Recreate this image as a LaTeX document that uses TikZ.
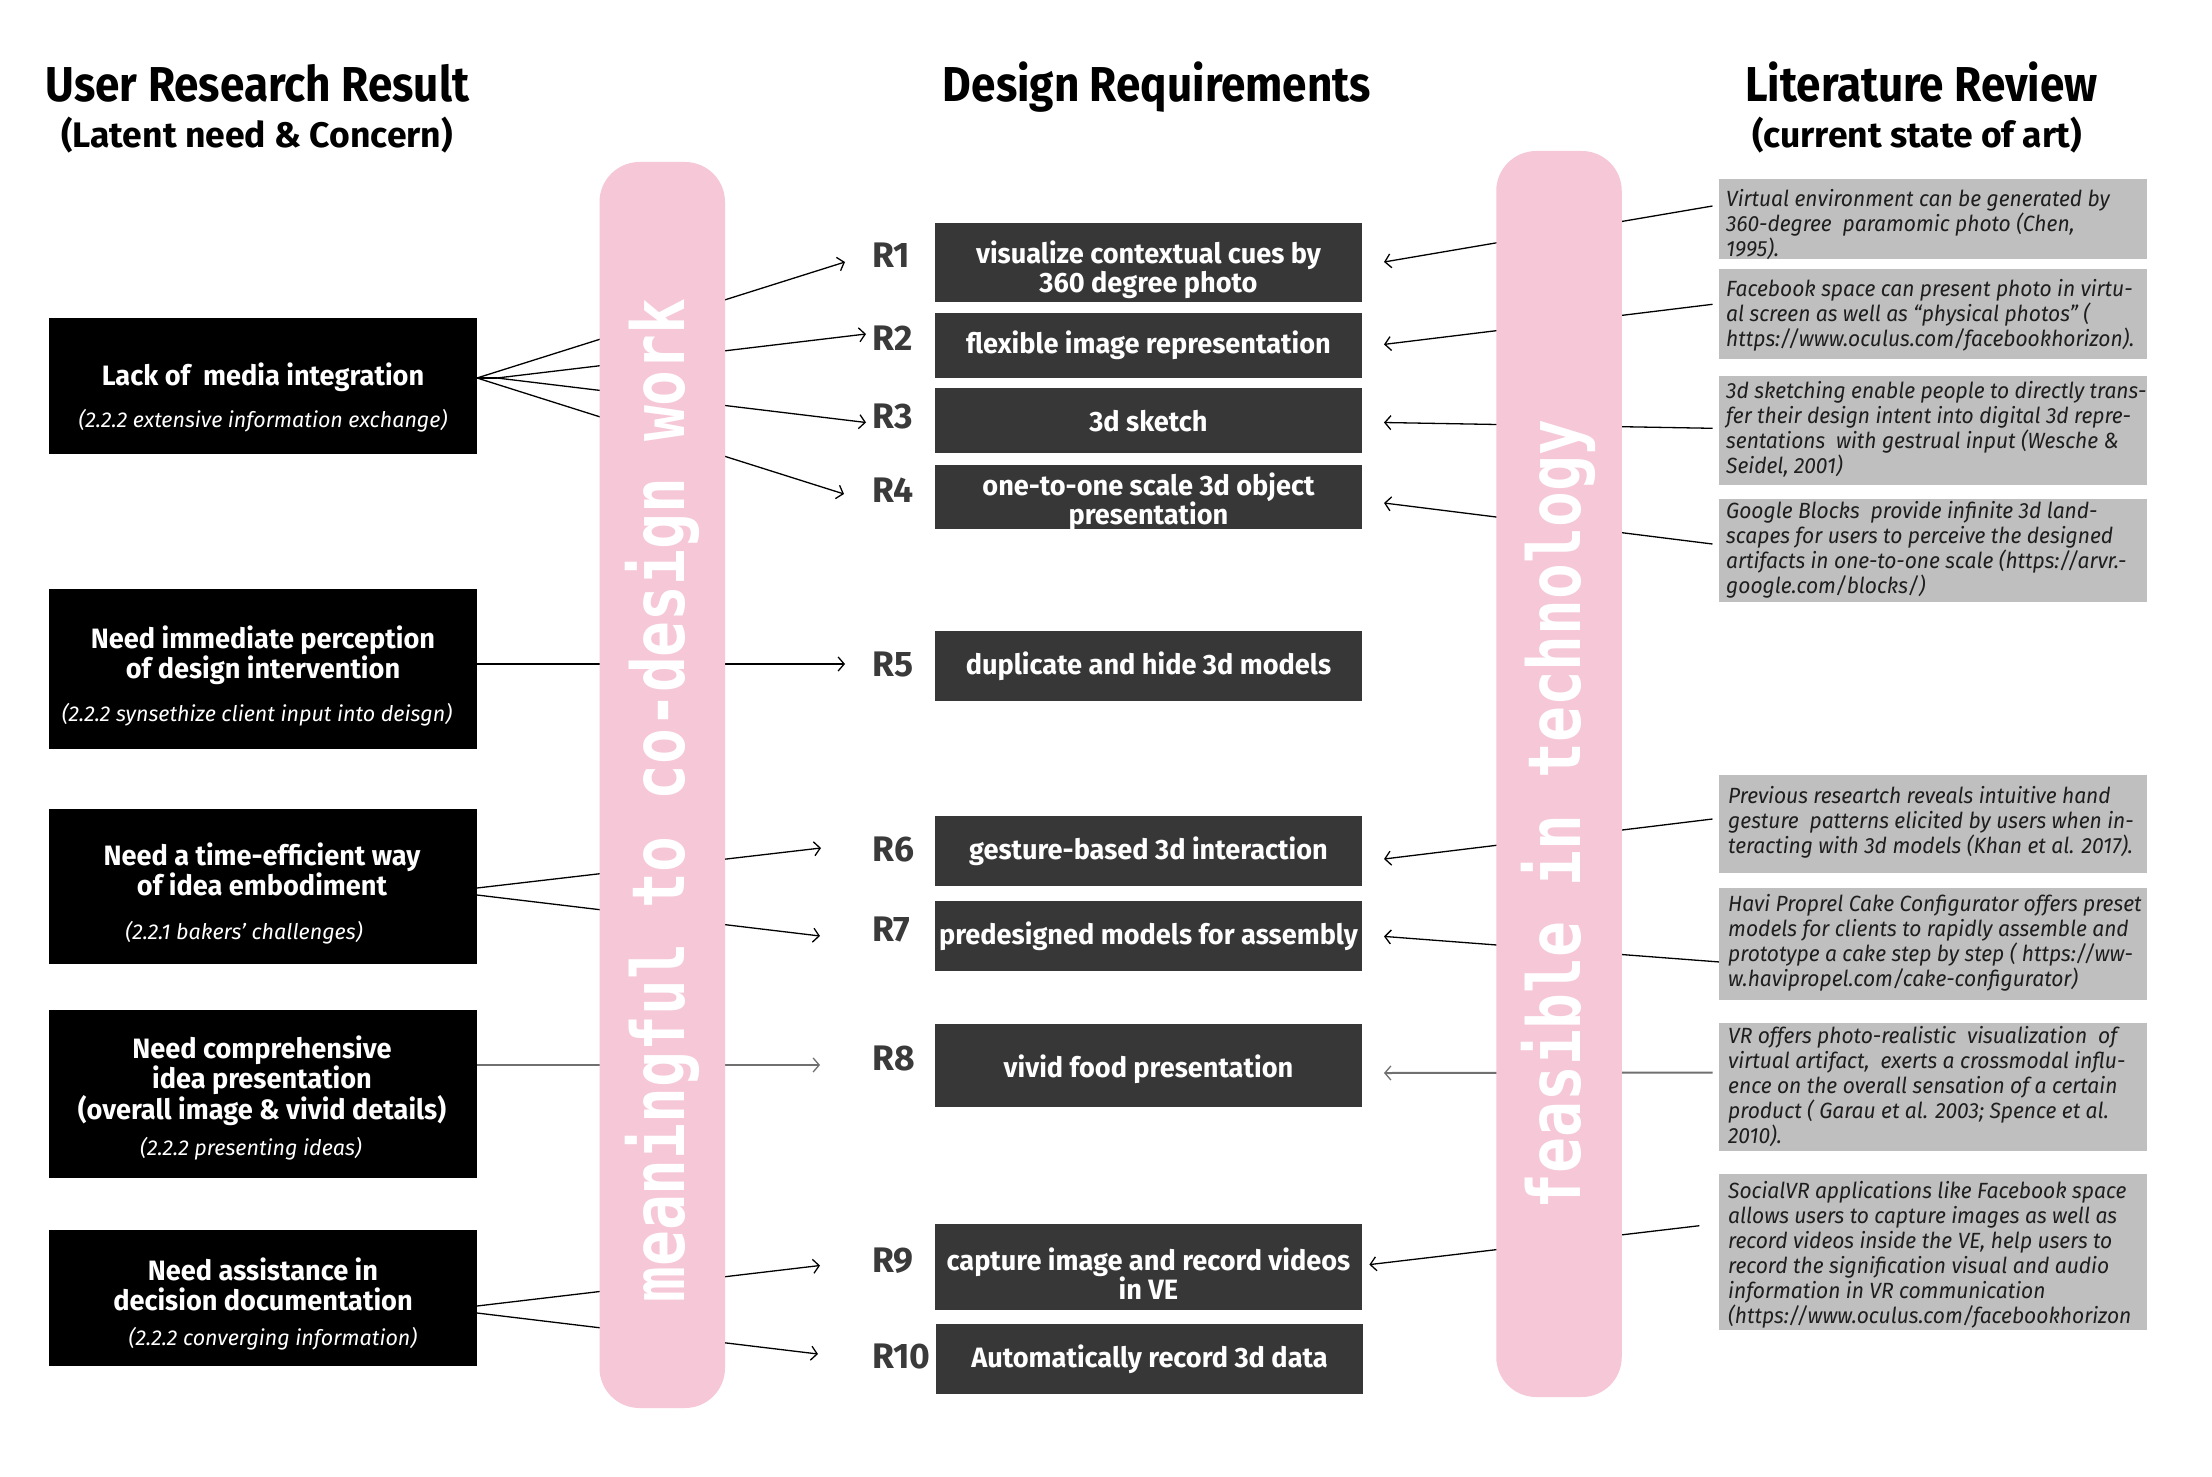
\documentclass[tikz,border=0pt]{standalone}
\usepackage{fontspec}
\setmainfont{Fira Sans}
\newfontfamily\headfont{Fira Sans}[FakeStretch=0.9]
\newfontfamily\boxfont{Fira Sans}[FakeStretch=0.97]
\newfontfamily\litfont{Fira Sans}[FakeStretch=0.955]
\newfontfamily\pinkfont{DejaVu Sans Mono}[FakeStretch=0.816]
\usetikzlibrary{arrows.meta}
\definecolor{pinkbar}{HTML}{F6C7D7}
\definecolor{rboxc}{HTML}{373737}
\definecolor{litbox}{HTML}{BFBFBF}
\definecolor{rlabelc}{HTML}{3A3A3A}
\definecolor{littext}{HTML}{1E1E1E}
\definecolor{grayline}{HTML}{707070}
\begin{document}
\begin{tikzpicture}[x=1pt,y=-1pt,
  lbox/.style={fill=black, inner sep=0, minimum width=428.5pt, anchor=north west},
  ltitle/.style={text=white, font=\boxfont\bfseries\fontsize{28}{30}\selectfont, inner sep=0, align=center},
  lsub/.style={text=white, font=\itshape\fontsize{21.5}{24}\selectfont, anchor=base, inner sep=0},
  rbox/.style={fill=rboxc, text=white, minimum width=427.5pt, inner sep=1pt, align=center, font=\boxfont\bfseries\fontsize{28}{29}\selectfont},
  rtext/.style={text=white, inner sep=0, align=center, font=\boxfont\bfseries\fontsize{28}{29}\selectfont},
  rlab/.style={anchor=base west, inner sep=0, text=rlabelc, font=\bfseries\fontsize{35.5}{35.5}\selectfont},
  gbox/.style={fill=litbox, inner sep=0, minimum width=428pt, anchor=north west},
  gtext/.style={anchor=north west, align=left, inner sep=0, text=littext, font=\litfont\itshape\fontsize{22}{25}\selectfont},
  pbar/.style={fill=pinkbar, inner sep=0, minimum width=125.5pt, rounded corners=40pt},
  ptext/.style={text=white, inner sep=0, anchor=base, rotate=90, font=\pinkfont\bfseries\fontsize{73}{73}\selectfont},
  head/.style={anchor=base, inner sep=0, font=\headfont\bfseries\fontsize{49}{49}\selectfont},
  subhead/.style={anchor=base, inner sep=0, font=\bfseries\fontsize{35.5}{35.5}\selectfont},
  conn/.style={line width=1.3pt, -{Straight Barb[length=6pt,width=14pt,line width=1.3pt]}},
  gconn/.style={conn, draw=grayline, line width=2pt},
  plain/.style={line width=1.3pt}
]
\useasboundingbox (0,0) rectangle (2212,1477);
\fill[white] (0,0) rectangle (2212,1477);

% headings
\node[head] (H1) at (257.5,102) {User Research Result};
\node[subhead] (H1s) at (257,148) {(Latent need \& Concern)};
\node[head] (H2) at (1157,102) {Design Requirements};
\node[head] (H3) at (1921.5,102) {Literature Review};
\node[subhead] (H3s) at (1917,148) {(current state of art)};

% connector coordinates (left)
\coordinate (a1) at (477,378);
\coordinate (a2) at (497,378);
\coordinate (a5) at (477,664);
\coordinate (a6) at (477,888);
\coordinate (a7) at (477,895);
\coordinate (a8) at (477,1065);
\coordinate (a9) at (477,1306);
\coordinate (a10) at (477,1313);
\coordinate (t1) at (845,262);
\coordinate (t2) at (866,334);
\coordinate (t3) at (866,422.5);
\coordinate (t4) at (844,494);
\coordinate (t5) at (845,664);
\coordinate (t6) at (821,848);
\coordinate (t7) at (820,936);
\coordinate (t8) at (820,1065);
\coordinate (t9) at (820,1265.5);
\coordinate (t10) at (818,1354);
% connector coordinates (right)
\coordinate (g1) at (1712.5,206);
\coordinate (g2) at (1712.5,304.3);
\coordinate (g3) at (1712.5,428.3);
\coordinate (g4) at (1712.5,544);
\coordinate (g6) at (1712.5,819);
\coordinate (g7) at (1725,962.4);
\coordinate (g8) at (1712.5,1072.6);
\coordinate (g9) at (1699.4,1225.7);
\coordinate (u1) at (1384,262);
\coordinate (u2) at (1384,344.4);
\coordinate (u3) at (1384,422.5);
\coordinate (u4) at (1384,503);
\coordinate (u6) at (1384,859);
\coordinate (u7) at (1384,936.4);
\coordinate (u8) at (1384,1073);
\coordinate (u9) at (1369.4,1264.6);

\draw[plain] (a1) -- (a2);
\draw[conn] (a1) -- (t1);
\draw[conn] (a2) -- (t2);
\draw[conn] (a2) -- (t3);
\draw[conn] (a1) -- (t4);
\draw[conn] (a5) -- (t5);
\draw[conn] (a6) -- (t6);
\draw[conn] (a7) -- (t7);
\draw[gconn] (a8) -- (t8);
\draw[conn] (a9) -- (t9);
\draw[conn] (a10) -- (t10);

\draw[conn] (g1) -- (u1);
\draw[conn] (g2) -- (u2);
\draw[conn] (g3) -- (u3);
\draw[conn] (g4) -- (u4);
\draw[conn] (g6) -- (u6);
\draw[conn] (g7) -- (u7);
\draw[gconn] (g8) -- (u8);
\draw[conn] (g9) -- (u9);

% pink bars
\node[pbar, minimum height=1246pt] (PB1) at (662.25,785) {};
\node[pbar, minimum height=1246pt] (PB2) at (1559,774) {};
\node[ptext] (PT1) at (684,800.5) {meaningful to co-design work};
\node[ptext] (PT2) at (1580,814.5) {feasible in technology};

% left boxes
\node[lbox, minimum height=136pt] (B1) at (48.5,318) {};
\node[lbox, minimum height=159.3pt] (B2) at (48.5,589) {};
\node[lbox, minimum height=154.3pt] (B3) at (48.5,809) {};
\node[lbox, minimum height=168pt] (B4) at (48.5,1009.3) {};
\node[lbox, minimum height=136.4pt] (B5) at (48.5,1229.3) {};

\node[ltitle, anchor=base] (B1t) at (263,385) {Lack of~ media integration};
\node[lsub] (B1s) at (263,427) {(2.2.2 extensive information exchange)};
\node[ltitle, anchor=north] (B2t) at (263,624) {\rule{0pt}{24pt}Need immediate perception\\of design intervention};
\node[lsub] (B2s) at (257,721) {(2.2.2 synsethize client input into deisgn)};
\node[ltitle, anchor=north] (B3t) at (262,841.5) {\rule{0pt}{24pt}Need a time-efficient way\\of idea embodiment};
\node[lsub] (B3s) at (244,939.5) {(2.2.1 bakers’ challenges)};
\node[ltitle, anchor=north] (B4t) at (262,1034) {\rule{0pt}{24pt}Need comprehensive\\idea presentation\\(overall image \& vivid details)};
\node[lsub] (B4s) at (251,1155) {(2.2.2 presenting ideas)};
\node[ltitle, anchor=north] (B5t) at (263,1256.5) {\rule{0pt}{24pt}Need assistance in\\decision documentation};
\node[lsub] (B5s) at (273,1345.5) {(2.2.2 converging information)};

% requirement boxes
\node[rbox, minimum height=79.2pt] (R1) at (1148.5,262.3) {};
\node[rtext, yshift=-7pt] (R1t) at (R1.center) {visualize contextual cues by\\360 degree photo};
\node[rbox, minimum height=65.1pt] (R2) at (1148.5,345.2) {flexible image representation};
\node[rbox, minimum height=64.7pt] (R3) at (1148.5,420.8) {3d sketch};
\node[rbox, minimum height=64.3pt] (R4) at (1148.5,496.8) {};
\node[rtext, yshift=-5pt] (R4t) at (R4.center) {one-to-one scale 3d object\\presentation};
\node[rbox, minimum height=70.4pt] (R5) at (1148.5,665.9) {duplicate and hide 3d models};
\node[rbox, minimum height=70pt] (R6) at (1148.5,850.8) {gesture-based 3d interaction};
\node[rbox, minimum height=70pt] (R7) at (1148.5,936.1) {predesigned models for assembly};
\node[rbox, minimum height=83.5pt] (R8) at (1148.5,1065.3) {};
\node[rtext, yshift=-4pt] (R8t) at (R8.center) {vivid food presentation};
\node[rbox, minimum height=85.3pt] (R9) at (1148.5,1267) {};
\node[rtext, yshift=-7pt] (R9t) at (R9.center) {capture image and record videos\\in VE};
\node[rbox, minimum height=70.5pt] (R10) at (1149.5,1359.2) {Automatically record 3d data};

% R labels
\node[rlab] (RL1) at (872,267) {R1};
\node[rlab] (RL2) at (872,350) {R2};
\node[rlab] (RL3) at (872,428) {R3};
\node[rlab] (RL4) at (872,502.5) {R4};
\node[rlab] (RL5) at (872,676.5) {R5};
\node[rlab] (RL6) at (872,861.5) {R6};
\node[rlab] (RL7) at (872,941) {R7};
\node[rlab] (RL8) at (872,1070.5) {R8};
\node[rlab] (RL9) at (872,1272) {R9};
\node[rlab] (RL10) at (872,1368.5) {R10};

% literature boxes
\node[gbox, minimum height=79.3pt] (G1) at (1719,179) {};
\node[gbox, minimum height=90pt] (G2) at (1719,269) {};
\node[gbox, minimum height=109.7pt] (G3) at (1719,375.3) {};
\node[gbox, minimum height=103.4pt] (G4) at (1719,498.3) {};
\node[gbox, minimum height=98.3pt] (G6) at (1719,774.9) {};
\node[gbox, minimum height=111.7pt] (G7) at (1719,887.8) {};
\node[gbox, minimum height=127.8pt] (G8) at (1719,1022.9) {};
\node[gbox, minimum height=155.8pt] (G9) at (1719,1174) {};

\node[gtext] (G1t) at (1726,186) {\rule{0pt}{20pt}Virtual environment can be generated by\\360-degree~ paramomic photo (Chen,\\1995).};
\node[gtext] (G2t) at (1726,276) {\rule{0pt}{20pt}Facebook space can present photo in virtu-\\al screen as well as “physical photos” (\\https://www.oculus.com/facebookhorizon).};
\node[gtext] (G3t) at (1726,378.5) {\rule{0pt}{20pt}3d sketching enable people to directly trans-\\fer their design intent into digital 3d repre-\\sentations~ with gestrual input (Wesche \&\\Seidel, 2001)};
\node[gtext] (G4t) at (1726,498.5) {\rule{0pt}{20pt}Google Blocks~ provide infinite 3d land-\\scapes for users to perceive the designed\\artifacts in one-to-one scale (https://arvr.-\\google.com/blocks/)};
\node[gtext] (G6t) at (1728,783.6) {\rule{0pt}{20pt}Previous researtch reveals intuitive hand\\gesture~ patterns elicited by users when in-\\teracting with 3d models (Khan et al. 2017).};
\node[gtext] (G7t) at (1728,891) {\rule{0pt}{20pt}Havi Proprel Cake Configurator offers preset\\models for clients to rapidly assemble and\\prototype a cake step by step ( https://ww-\\w.havipropel.com/cake-configurator)};
\node[gtext] (G8t) at (1728,1023) {\rule{0pt}{20pt}VR offers photo-realistic~ visualization~ of\\virtual artifact,~ exerts a crossmodal influ-\\ence on the overall sensation of a certain\\product ( Garau et al. 2003; Spence et al.\\2010).};
\node[gtext] (G9t) at (1728,1178) {\rule{0pt}{20pt}SocialVR applications like Facebook space\\allows users to capture images as well as\\record videos inside the VE, help users to\\record the signification visual and audio\\information in VR communication\\(https://www.oculus.com/facebookhorizon};
\end{tikzpicture}
\end{document}
